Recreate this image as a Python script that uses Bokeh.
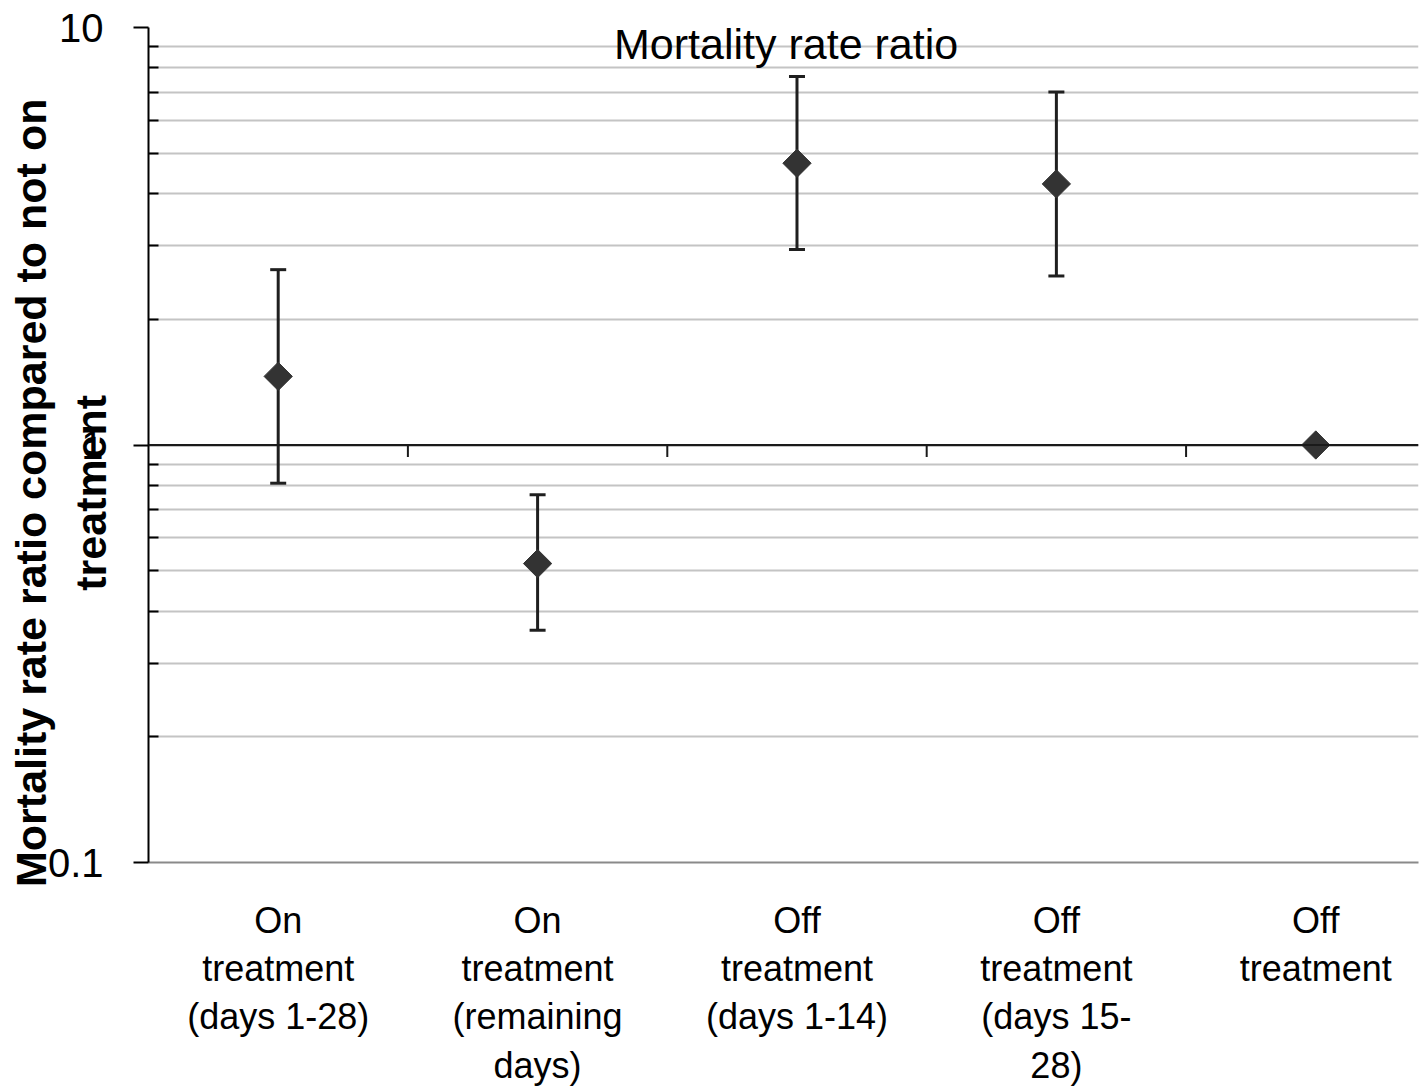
import math
from bokeh.plotting import figure
from bokeh.models import (Range1d, FixedTicker, Span, Label, Whisker,
                          TeeHead, ColumnDataSource)
from bokeh.embed import file_html
from bokeh.resources import INLINE

# ---- data ----
categories = ["On\ntreatment\n(days 1-28)",
              "On\ntreatment\n(remaining\ndays)",
              "Off\ntreatment\n(days 1-14)",
              "Off\ntreatment\n(days 15-\n28)",
              "Off\ntreatment"]
rate_ratio = [1.46, 0.52, 4.73, 4.22, 1.0]
ci_lower = [0.81, 0.36, 2.94, 2.54, None]
ci_upper = [2.63, 0.76, 7.63, 7.01, None]
y_ticks = [0.1, 1, 10]
y_tick_labels = {0.1: "0.1", 1: "1", 10: "10"}
title_text = "Mortality rate ratio"
ylabel_lines = ["Mortality rate ratio compared to not on", "treatment"]

FONT = "Liberation Sans"
xpos = [i + 0.5 for i in range(len(categories))]
bounds = [i for i in range(1, len(categories))]
PAD = "\u00a0" * 8

p = figure(width=1420, height=1088, x_range=Range1d(0, 4.896),
           y_range=Range1d(0.1, 10), y_axis_type="log",
           output_backend="svg", toolbar_location=None,
           min_border_left=148, min_border_right=2, min_border_top=27,
           min_border_bottom=226)
p.outline_line_color = None
p.background_fill_color = "white"
p.border_fill_color = "white"

# y axis
yax = p.yaxis[0]
yax.ticker = FixedTicker(ticks=y_ticks,
                         minor_ticks=[m * d for d in (0.1, 1) for m in range(2, 10)])
yax.major_label_overrides = y_tick_labels
yax.major_label_text_font = FONT
yax.major_label_text_font_size = "40px"
yax.major_label_text_color = "black"
yax.major_label_standoff = 30
yax.axis_line_color = "black"
yax.axis_line_width = 2
yax.major_tick_in = 0
yax.major_tick_out = 15
yax.major_tick_line_width = 2
yax.major_tick_line_color = "black"
yax.minor_tick_in = 10
yax.minor_tick_out = 0
yax.minor_tick_line_width = 2
yax.minor_tick_line_color = "black"
yax.axis_label = "\n".join(line + PAD for line in ylabel_lines)
yax.axis_label_text_font = FONT
yax.axis_label_text_font_size = "43px"
yax.axis_label_text_font_style = "bold"
yax.axis_label_text_color = "black"
yax.axis_label_text_line_height = 1.25
yax.axis_label_standoff = -70

# x axis at the bottom: category labels
xax = p.xaxis[0]
xax.ticker = FixedTicker(ticks=xpos)
xax.major_label_overrides = {x: c for x, c in zip(xpos, categories)}
xax.major_label_text_font = FONT
xax.major_label_text_font_size = "36px"
xax.major_label_text_color = "black"
xax.major_label_text_line_height = 1.18
xax.major_label_standoff = 37
xax.major_label_orientation = "horizontal"
xax.axis_line_color = "#8a8a8a"
xax.axis_line_width = 2
xax.major_tick_line_color = None
xax.minor_tick_line_color = None
xax.major_tick_in = 0
xax.major_tick_out = 0

# grids
p.xgrid.grid_line_color = None
p.ygrid.grid_line_color = "#8a8a8a"
p.ygrid.grid_line_width = 2
p.ygrid.minor_grid_line_color = "#c4c4c4"
p.ygrid.minor_grid_line_width = 2

# horizontal category axis line at ratio 1
p.add_layout(Span(location=1, dimension="width", line_color="#1a1a1a", line_width=2))
tick_px = 12
frame_h = 835
y_tick_end = 10 ** (-tick_px / (frame_h / 2))
p.segment(x0=bounds, x1=bounds, y0=[1] * len(bounds), y1=[y_tick_end] * len(bounds),
          line_color="#1a1a1a", line_width=2)

# error bars
idx = [i for i in range(len(categories)) if ci_lower[i] is not None]
wsrc = ColumnDataSource(dict(x=[xpos[i] for i in idx],
                             lower=[ci_lower[i] for i in idx],
                             upper=[ci_upper[i] for i in idx]))
w = Whisker(source=wsrc, base="x", lower="lower", upper="upper", dimension="height",
            line_color="#1f1f1f", line_width=3,
            upper_head=TeeHead(size=16, line_color="#1f1f1f", line_width=3),
            lower_head=TeeHead(size=16, line_color="#1f1f1f", line_width=3))
p.add_layout(w)

# points
p.scatter(x=xpos, y=rate_ratio, marker="square", angle=math.pi / 4, size=20,
          fill_color="#333333", line_color="#333333", line_width=1)

# title inside plot
p.add_layout(Label(x=2.458, y=819, x_units="data", y_units="screen", text=title_text,
                   text_font=FONT, text_font_size="43px", text_align="center",
                   text_baseline="alphabetic", text_color="black"))

open("out.html", "w").write(file_html(p, INLINE))
